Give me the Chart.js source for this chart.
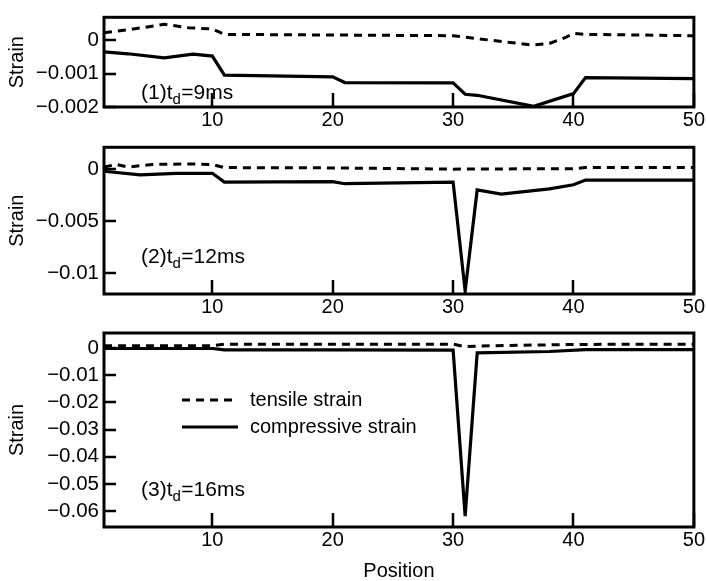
<!DOCTYPE html>
<html><head><meta charset="utf-8">
<script src="https://cdn.jsdelivr.net/npm/chart.js@4"></script>
<style>
html,body{margin:0;padding:0;background:#fff}
body{width:706px;height:581px;overflow:hidden;position:relative}
canvas{position:absolute;left:0}
</style></head><body>
<canvas id="c1" width="706" height="130" style="top:0px"></canvas>
<canvas id="c2" width="706" height="185" style="top:130px"></canvas>
<canvas id="c3" width="706" height="266" style="top:315px"></canvas>
<script>
// ---------- data ----------
const xTicks = [10, 20, 30, 40, 50];
const p1YTicks = [0, -0.001, -0.002];
const p2YTicks = [0, -0.005, -0.01];
const p3YTicks = [0, -0.01, -0.02, -0.03, -0.04, -0.05, -0.06];

const seriesNames = ['tensile strain', 'compressive strain'];
const panelNums = ['(1)', '(2)', '(3)'];
const panelTd = ['=9ms', '=12ms', '=16ms'];
const xTitle = 'Position';
const yTitle = 'Strain';

// panel 1
const p1TensilePos = [1, 2, 4, 6, 8, 10, 11, 20, 30, 33, 36.6, 38, 39.3, 40, 41, 50];
const p1TensileVal = [0.00022, 0.00026, 0.00036, 0.00047, 0.00037, 0.00033, 0.00017, 0.00015, 0.00013, 0.0, -0.00015, -0.0001, 0.00007, 0.0002, 0.00017, 0.00013];
const p1CompPos = [1, 3, 6, 8.4, 10, 11, 20, 21, 30, 31, 32, 36.7, 40, 41, 50];
const p1CompVal = [-0.00035, -0.00041, -0.00053, -0.00042, -0.00048, -0.00105, -0.0011, -0.00127, -0.00128, -0.00162, -0.00165, -0.00198, -0.0016, -0.00112, -0.00115];

// panel 2
const p2TensilePos = [1, 2, 3, 5, 8, 10, 11, 20, 30, 40, 41, 50];
const p2TensileVal = [0.0002, 0.00045, 0.0002, 0.00045, 0.0005, 0.00045, 0.00015, 0.00012, 0.0, 0.00005, 0.00015, 0.00015];
const p2CompPos = [1, 4, 7, 10, 11, 20, 21, 30, 31, 32, 34, 38, 40, 41, 50];
const p2CompVal = [-0.0002, -0.00055, -0.0004, -0.0004, -0.00125, -0.0012, -0.0014, -0.00125, -0.0117, -0.002, -0.0024, -0.0019, -0.0015, -0.00105, -0.00105];

// panel 3
const p3TensilePos = [1, 10, 11, 30, 31, 33, 40, 50];
const p3TensileVal = [0.0008, 0.0008, 0.0014, 0.0014, 0.0005, 0.0008, 0.0013, 0.0014];
const p3CompPos = [1, 10, 11, 20, 30, 31, 32, 38, 41, 50];
const p3CompVal = [-0.0002, -0.0002, -0.0007, -0.0007, -0.0008, -0.0618, -0.0018, -0.0013, -0.0006, -0.0006];

// ---------- rendering ----------
const FONT = '"Liberation Sans", Arial, Helvetica, sans-serif';
const INK = '#000';
Chart.defaults.font.family = FONT;
Chart.defaults.color = INK;

const zip = (p, v) => p.map((x, i) => ({x: x, y: v[i]}));
const fmt = v => v === 0 ? '0' : (v < 0 ? '\u2212' : '') + String(Math.abs(v));

const framePlugin = {
  id: 'frame',
  afterDatasetsDraw(chart, args, o) {
    const {ctx, chartArea: a, scales: {x, y}} = chart;
    ctx.save();
    ctx.strokeStyle = INK;
    ctx.lineWidth = 3;
    ctx.strokeRect(a.left, a.top, a.right - a.left, a.bottom - a.top);
    ctx.lineWidth = 2.5;
    ctx.beginPath();
    y.ticks.forEach(t => { const py = Math.round(y.getPixelForValue(t.value)); ctx.moveTo(a.left, py); ctx.lineTo(a.left + 12, py); });
    x.ticks.forEach(t => { const px = Math.round(x.getPixelForValue(t.value)); ctx.moveTo(px, a.bottom); ctx.lineTo(px, a.bottom - 14); });
    ctx.stroke();
    // panel annotation: (n)t_d=..ms
    ctx.fillStyle = INK;
    ctx.textBaseline = 'alphabetic';
    ctx.textAlign = 'left';
    let tx = a.left + o.annDx, ty = a.top + o.annDy;
    ctx.font = '21px ' + FONT;
    const main = o.num + 't';
    ctx.fillText(main, tx, ty);
    tx += ctx.measureText(main).width;
    ctx.font = '15px ' + FONT;
    ctx.fillText('d', tx, ty + 5);
    tx += ctx.measureText('d').width + 0.5;
    ctx.font = '21px ' + FONT;
    ctx.fillText(o.td, tx, ty);
    // legend
    if (o.legend) {
      ctx.font = '20px ' + FONT;
      ctx.textBaseline = 'middle';
      chart.data.datasets.forEach((ds, i) => {
        const ly = a.top + o.legDy + i * o.legGap;
        const lx = a.left + o.legDx;
        ctx.beginPath();
        ctx.lineWidth = 3;
        ctx.setLineDash(ds.borderDash || []);
        ctx.moveTo(lx, ly); ctx.lineTo(lx + 56, ly);
        ctx.stroke();
        ctx.setLineDash([]);
        ctx.fillText(ds.label, lx + 68, ly);
      });
    }
    ctx.restore();
  }
};

function makePanel(id, tPos, tVal, cPos, cVal, yTicks, yMin, yMax, idx, pad, xh, showXTitle, legend, annDy) {
  return new Chart(document.getElementById(id), {
    type: 'line',
    data: {
      datasets: [
        {label: seriesNames[0], data: zip(tPos, tVal), borderColor: INK, borderWidth: 3, borderDash: [8, 6], pointRadius: 0, tension: 0, fill: false},
        {label: seriesNames[1], data: zip(cPos, cVal), borderColor: INK, borderWidth: 3.2, pointRadius: 0, tension: 0, fill: false}
      ]
    },
    options: {
      responsive: false,
      devicePixelRatio: 1,
      animation: false,
      layout: {padding: {top: pad, right: 12, left: 0, bottom: 0}},
      plugins: {
        legend: {display: false},
        tooltip: {enabled: false},
        frame: {num: panelNums[idx], td: panelTd[idx], annDx: 37, annDy: annDy, legend: legend, legDx: 78, legDy: 67, legGap: 27}
      },
      scales: {
        x: {
          type: 'linear', min: 1, max: 50,
          afterBuildTicks: s => { s.ticks = xTicks.map(v => ({value: v})); },
          afterFit: s => { s.height = xh; },
          grid: {display: false, drawTicks: false},
          border: {display: false},
          ticks: {autoSkip: false, maxRotation: 0, padding: 1, font: {size: 20}, color: INK},
          title: {display: showXTitle, text: xTitle, font: {size: 20}, color: INK, padding: {top: 0, bottom: -2}}
        },
        y: {
          type: 'linear', min: yMin, max: yMax,
          afterBuildTicks: s => { s.ticks = yTicks.map(v => ({value: v})); },
          afterFit: s => { s.width = 104; },
          grid: {display: false, drawTicks: false},
          border: {display: false},
          ticks: {autoSkip: false, padding: 5, font: {size: 20.5}, color: INK, callback: v => fmt(v)},
          title: {display: true, text: yTitle, font: {size: 20}, color: INK, padding: {top: 5, bottom: 0}}
        }
      }
    },
    plugins: [framePlugin]
  });
}

makePanel('c1', p1TensilePos, p1TensileVal, p1CompPos, p1CompVal, p1YTicks, -0.002, 0.00068, 0, 8, 23, false, false, 82);
makePanel('c2', p2TensilePos, p2TensileVal, p2CompPos, p2CompVal, p2YTicks, -0.012, 0.0021, 1, 16, 21, false, false, 116);
makePanel('c3', p3TensilePos, p3TensileVal, p3CompPos, p3CompVal, p3YTicks, -0.0658, 0.0055, 2, 18, 54, true, true, 163);
</script>
</body></html>
